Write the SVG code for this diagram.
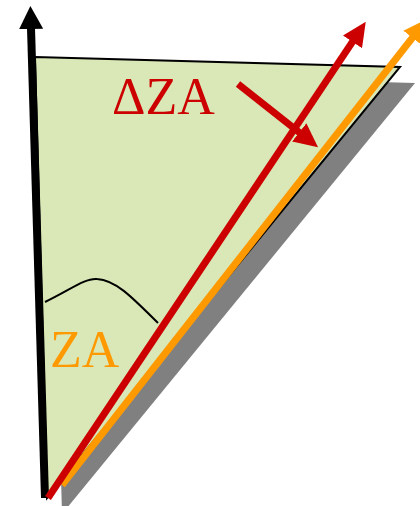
<svg xmlns="http://www.w3.org/2000/svg" width="420" height="506" viewBox="0 0 420 506">
<style>
.lbl{font-family:"Liberation Serif","DejaVu Serif",serif;font-size:52px}
</style>
<defs>
<marker id="hk" markerWidth="23" markerHeight="24" refX="1" refY="12" orient="auto" markerUnits="userSpaceOnUse" viewBox="0 0 23 24"><path d="M0,0 L23,12 L0,24 z" fill="#000"/></marker>
<marker id="hr" markerWidth="24" markerHeight="23" refX="1" refY="11.5" orient="auto" markerUnits="userSpaceOnUse" viewBox="0 0 24 23"><path d="M0,0 L24,11.5 L0,23 z" fill="#CC0000"/></marker>
<marker id="ho" markerWidth="24" markerHeight="23" refX="1" refY="11.5" orient="auto" markerUnits="userSpaceOnUse" viewBox="0 0 24 23"><path d="M0,0 L24,11.5 L0,23 z" fill="#FF9900"/></marker>
</defs>
<g id="shadow"><polygon points="50,73 415,83 62,514" fill="#808080"/></g>
<g id="triangle"><polygon points="35,57 400,67 47,498" fill="#D9E8B6" stroke="#000" stroke-width="2"/></g>
<g id="angle"><path d="M45,302 C70,290 85,278 97,279 C115,280 130,295 158,323" fill="none" stroke="#000" stroke-width="2"/></g>
<g id="connectors">
<line x1="45" y1="498" x2="31" y2="28" stroke="#000" stroke-width="8" marker-end="url(#hk)"/>
<line x1="62" y1="485" x2="413" y2="37" stroke="#FF9900" stroke-width="7" marker-end="url(#ho)"/>
<line x1="48" y1="498" x2="353" y2="41" stroke="#CC0000" stroke-width="7" marker-end="url(#hr)"/>
<line x1="238" y1="84" x2="300" y2="133" stroke="#CC0000" stroke-width="7" marker-end="url(#hr)"/>
</g>
<g id="labels">
<text class="lbl" x="112" y="114" fill="#CC0000">ΔZA</text>
<text class="lbl" x="50" y="367" fill="#FF9900">ZA</text>
</g>
</svg>
